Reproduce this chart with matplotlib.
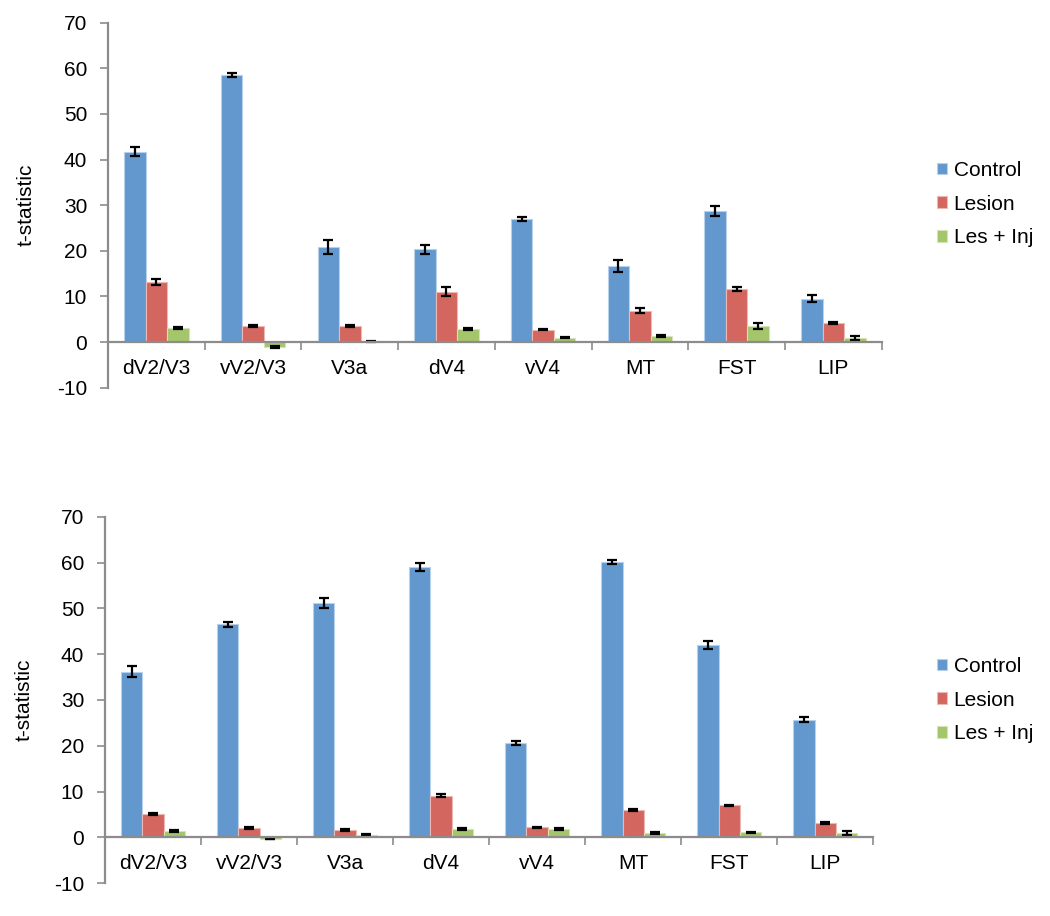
import numpy as np
import matplotlib
matplotlib.use("Agg")
import matplotlib.pyplot as plt

plt.rcParams['font.family'] = ['Liberation Sans', 'DejaVu Sans']
plt.rcParams['axes.unicode_minus'] = False

areas = ['dV2/V3', 'vV2/V3', 'V3a', 'dV4', 'vV4', 'MT', 'FST', 'LIP']
series = ['Control', 'Lesion', 'Les + Inj']
colors = ['#6298CE', '#D3675F', '#A4C56A']
edges = ['#B8D0EA', '#EDB8B3', '#D3E4B6']

# top panel
top_control = [41.7, 58.5, 20.8, 20.3, 27.0, 16.6, 28.7, 9.5]
top_control_err = [1.0, 0.5, 1.5, 0.9, 0.4, 1.3, 1.1, 0.8]
top_lesion = [13.2, 3.5, 3.6, 11.0, 2.7, 6.9, 11.6, 4.2]
top_lesion_err = [0.6, 0.2, 0.2, 1.0, 0.15, 0.6, 0.4, 0.2]
top_lesinj = [3.1, -1.0, 0.15, 2.9, 1.0, 1.4, 3.5, 0.9]
top_lesinj_err = [0.2, 0.2, 0.1, 0.2, 0.2, 0.2, 0.6, 0.4]

# bottom panel
bot_control = [36.2, 46.5, 51.2, 59.0, 20.6, 60.1, 42.0, 25.7]
bot_control_err = [1.2, 0.5, 1.1, 0.8, 0.4, 0.5, 0.9, 0.5]
bot_lesion = [5.1, 2.1, 1.6, 9.1, 2.2, 6.0, 7.0, 3.1]
bot_lesion_err = [0.2, 0.15, 0.2, 0.35, 0.15, 0.15, 0.15, 0.2]
bot_lesinj = [1.4, -0.3, 0.6, 1.85, 1.85, 1.0, 1.1, 0.95]
bot_lesinj_err = [0.15, 0.05, 0.2, 0.15, 0.3, 0.2, 0.15, 0.4]

axis_grey = '#8C8C8C'
fs = 15


def draw_panel(ax, values, errors, leg_y):
    x = np.arange(len(areas)) + 0.5
    w = 1 / 4.5
    for k, (vals, errs) in enumerate(zip(values, errors)):
        ax.bar(x + (k - 1) * w, vals, w, color=colors[k], edgecolor=edges[k],
               linewidth=0.8, label=series[k], zorder=2)
        ax.errorbar(x + (k - 1) * w, vals, yerr=errs, fmt='none', ecolor='black',
                    elinewidth=1.6, capsize=3.8, capthick=1.6, zorder=3)
    ax.set_xlim(0, len(areas))
    ax.set_ylim(-10, 70)
    ax.set_yticks(range(-10, 71, 10))
    ax.set_xticks(x)
    ax.set_xticklabels(areas)
    ax.set_xticks(np.arange(1, len(areas) + 1), minor=True)
    ax.tick_params(axis='x', which='major', length=0, pad=12, labelsize=fs)
    ax.tick_params(axis='x', which='minor', length=6, color=axis_grey, width=1.2)
    ax.tick_params(axis='y', length=6, color=axis_grey, width=1.2, pad=9, labelsize=fs)
    for s in ['top', 'right']:
        ax.spines[s].set_visible(False)
    ax.spines['bottom'].set_position(('data', 0))
    ax.spines['bottom'].set_zorder(4)
    for s in ['left', 'bottom']:
        ax.spines[s].set_color(axis_grey)
        ax.spines[s].set_linewidth(1.6)
    ax.set_ylabel('t-statistic', fontsize=fs)
    ax.yaxis.set_label_coords(-0.093, 0.5)
    ax.legend(loc='center left', bbox_to_anchor=(937 / 1050, 1 - leg_y / 916),
              bbox_transform=fig.transFigure, frameon=False, fontsize=fs,
              handlelength=0.5, handleheight=0.5, handletextpad=0.3,
              labelspacing=0.7, borderpad=0, borderaxespad=0)


fig = plt.figure(figsize=(10.5, 9.16), dpi=100)
ax1 = fig.add_axes([108 / 1050, 1 - 387.7 / 916, (881.7 - 108) / 1050, 365 / 916])
ax2 = fig.add_axes([105 / 1050, 1 - 883.3 / 916, (873.3 - 105) / 1050, 366.6 / 916])

draw_panel(ax1, [top_control, top_lesion, top_lesinj],
           [top_control_err, top_lesion_err, top_lesinj_err], 204)
draw_panel(ax2, [bot_control, bot_lesion, bot_lesinj],
           [bot_control_err, bot_lesion_err, bot_lesinj_err], 700)

fig.savefig('out.png', dpi=100)
